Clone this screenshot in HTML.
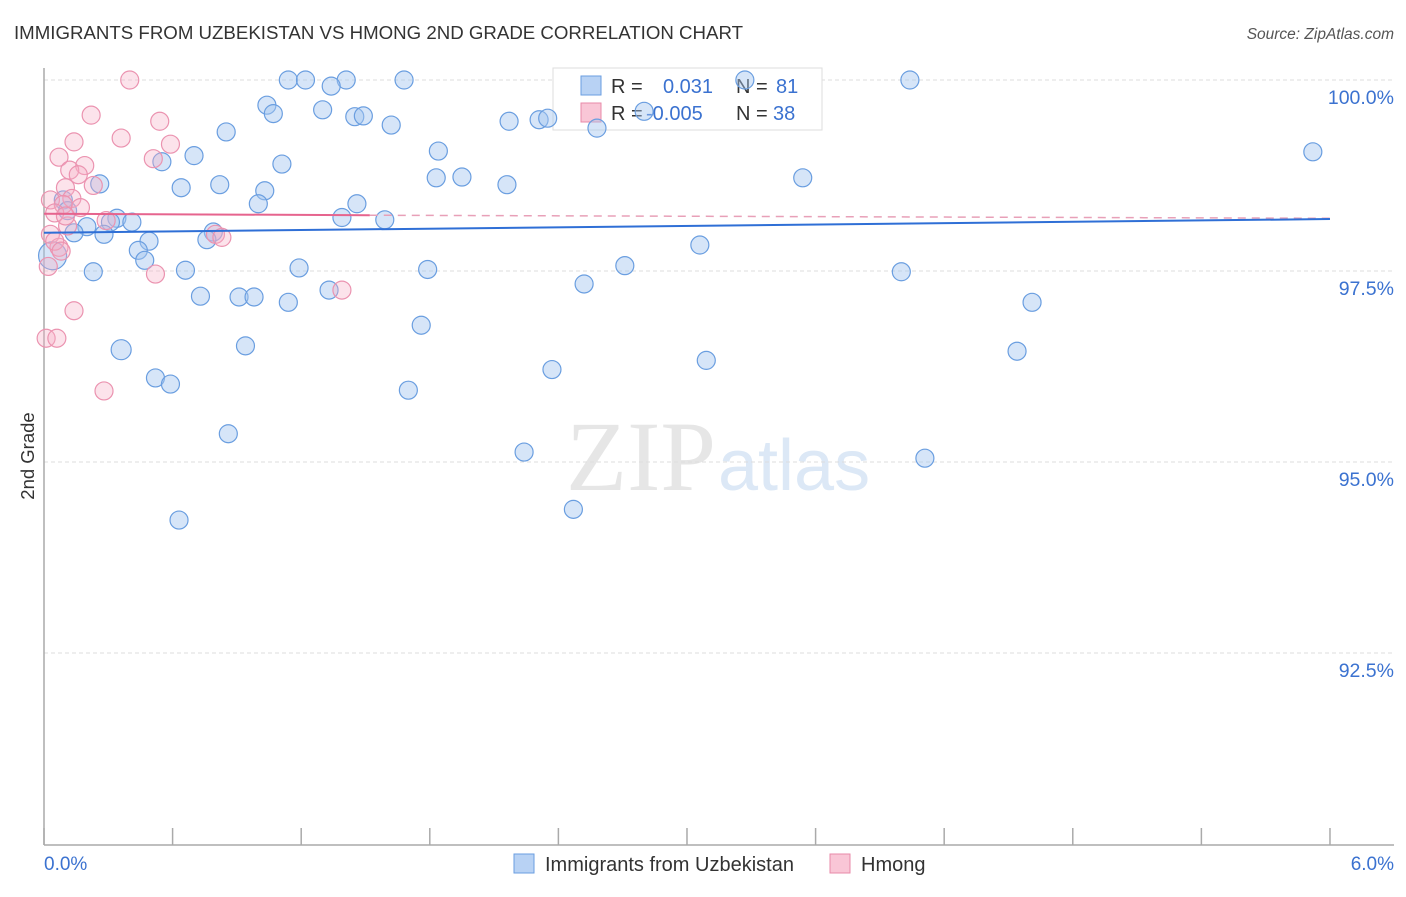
<!DOCTYPE html>
<html><head><meta charset="utf-8"><style>
body{margin:0;background:#fff;font-family:"Liberation Sans",sans-serif}
</style></head><body>
<svg width="1406" height="892" xmlns="http://www.w3.org/2000/svg" id="chart">
<text x="14" y="39" font-size="18" fill="#333" textLength="729" lengthAdjust="spacingAndGlyphs">IMMIGRANTS FROM UZBEKISTAN VS HMONG 2ND GRADE CORRELATION CHART</text>
<text x="1394" y="39" font-size="15.5" fill="#555" font-style="italic" text-anchor="end">Source: ZipAtlas.com</text>
<text x="716" y="490" font-size="100" fill="#e6e6e6" text-anchor="end" font-family="Liberation Serif,serif">ZIP</text>
<text x="718" y="490" font-size="72" fill="#dce8f6">atlas</text>
<g id="grid"></g>
<line x1="44" y1="68" x2="44" y2="845" stroke="#aaa" stroke-width="1.5"/>
<line x1="44" y1="845" x2="1394" y2="845" stroke="#aaa" stroke-width="1.5"/>
<text transform="translate(34,456) rotate(-90)" font-size="18.5" fill="#333" text-anchor="middle">2nd Grade</text>
<text x="44" y="870" font-size="19" fill="#3b72d0">0.0%</text>
<text x="1394" y="870" font-size="19" fill="#3b72d0" text-anchor="end">6.0%</text>
<g>
<rect x="553" y="68" width="269" height="62" fill="#fff" stroke="#ddd"/>
<rect x="581" y="76" width="20" height="19" fill="#b8d2f4" stroke="#6a9ee0"/>
<rect x="581" y="103" width="20" height="19" fill="#f9c6d6" stroke="#e88aa8"/>
<text x="611" y="93" font-size="20" fill="#333">R = <tspan fill="#3b72d0" x="663">0.031</tspan><tspan fill="#333" x="736">N = </tspan><tspan fill="#3b72d0" x="776">81</tspan></text>
<text x="611" y="120" font-size="20" fill="#333">R = <tspan fill="#3b72d0" x="646">-0.005</tspan><tspan fill="#333" x="736">N = </tspan><tspan fill="#3b72d0" x="773">38</tspan></text>
</g>
<g id="pts"></g>
<g id="lines"></g>
<g>
<rect x="514" y="854" width="20" height="19" fill="#b8d2f4" stroke="#6a9ee0"/>
<text x="545" y="871" font-size="20" fill="#333">Immigrants from Uzbekistan</text>
<rect x="830" y="854" width="20" height="19" fill="#f9c6d6" stroke="#e88aa8"/>
<text x="861" y="871" font-size="20" fill="#333">Hmong</text>
</g>
</svg>
<script>
const yTicks=[100,97.5,95,92.5];
const yTickLabels=["100.0%","97.5%","95.0%","92.5%"];
const xTicks=[0,0.6,1.2,1.8,2.4,3.0,3.6,4.2,4.8,5.4,6.0];
const blueX=[1.14,1.22,1.41,1.68,3.27,4.04,1.34,1.04,1.07,1.30,1.45,1.49,1.62,2.17,2.31,2.35,2.58,2.80,0.85,5.92,0.70,0.55,1.84,1.11,1.83,1.95,2.16,3.54,0.64,0.82,1.03,0.26,1.00,1.46,0.09,0.11,0.34,0.41,1.39,1.59,0.31,0.20,0.14,0.28,0.79,0.76,0.49,0.44,3.06,0.04,0.47,0.23,0.66,1.19,1.79,2.71,4.00,1.33,2.52,0.73,0.91,0.98,1.14,4.61,1.76,0.36,0.94,3.09,4.54,0.52,0.59,2.37,1.70,0.86,2.24,4.11,0.63,2.47];
const blueY=[100,100,100,100,100,100,99.92,99.67,99.56,99.61,99.52,99.53,99.41,99.46,99.48,99.50,99.37,99.59,99.32,99.06,99.01,98.93,99.07,98.90,98.72,98.73,98.63,98.72,98.59,98.63,98.55,98.64,98.38,98.38,98.43,98.29,98.19,98.14,98.20,98.17,98.14,98.08,98.00,97.98,98.01,97.91,97.89,97.77,97.84,97.70,97.64,97.49,97.51,97.54,97.52,97.57,97.49,97.25,97.33,97.17,97.16,97.16,97.09,97.09,96.79,96.47,96.52,96.33,96.45,96.10,96.02,96.21,95.94,95.37,95.13,95.05,94.24,94.38];
const blueR=[9,9,9,9,9,9,9,9,9,9,9,9,9,9,9,9,9,9,9,9,9,9,9,9,9,9,9,9,9,9,9,9,9,9,9,9,9,9,9,9,9,9,9,9,9,9,9,9,9,14,9,9,9,9,9,9,9,9,9,9,9,9,9,9,9,10,9,9,9,9,9,9,9,9,9,9,9,9];
const pinkX=[0.40,0.22,0.54,0.36,0.14,0.59,0.51,0.07,0.19,0.12,0.16,0.23,0.10,0.13,0.03,0.09,0.05,0.17,0.29,0.80,0.83,0.03,0.07,0.52,1.39,0.14,0.01,0.06,0.28,0.05,0.02,0.08,0.11,0.10];
const pinkY=[100,99.54,99.46,99.24,99.19,99.16,98.97,98.99,98.88,98.82,98.76,98.62,98.59,98.45,98.43,98.37,98.26,98.33,98.16,97.98,97.94,97.98,97.81,97.46,97.25,96.98,96.62,96.62,95.93,97.89,97.56,97.76,98.09,98.22];
const trendBlue=[98.00,98.18];
const trendPink=[98.25,98.23,98.19];
const X=v=>44+v*214.33, Y=v=>80+(100-v)*76.4;
const ns='http://www.w3.org/2000/svg';
const mk=(t,a,p)=>{const e=document.createElementNS(ns,t);for(const k in a)e.setAttribute(k,a[k]);document.getElementById(p).appendChild(e);return e;};
yTicks.forEach((t,i)=>{
 const l=mk('line',{x1:44,x2:1394,y1:Y(t),y2:Y(t),stroke:'#ddd','stroke-dasharray':'4,3'},'grid');
 
 
 const tx=mk('text',{x:1394,y:Y(t)+24,'font-size':19.5,fill:'#3b72d0','text-anchor':'end'},'grid');
 tx.textContent=yTickLabels[i];
 
 
});
xTicks.forEach(t=>{
 const l=mk('line',{x1:X(t),x2:X(t),y1:828,y2:845,stroke:'#aaa','stroke-width':1.5},'grid');
 
 
});
blueX.forEach((x,i)=>{
 const c=mk('circle',{cx:X(x),cy:Y(blueY[i]),r:blueR[i],fill:'rgba(165,198,240,0.45)',stroke:'#6a9ee0','stroke-width':1.2},'pts');
 
 
});
pinkX.forEach((x,i)=>{
 const c=mk('circle',{cx:X(x),cy:Y(pinkY[i]),r:9,fill:'rgba(245,175,198,0.35)',stroke:'#eb93b0','stroke-width':1.2},'pts');
 
 
});
const pd=mk('line',{x1:X(1.52),y1:Y(trendPink[1]),x2:X(6),y2:Y(trendPink[2]),stroke:'#e8a0b8','stroke-width':1.5,'stroke-dasharray':'8,6'},'lines');


const ps=mk('line',{x1:X(0),y1:Y(trendPink[0]),x2:X(1.52),y2:Y(trendPink[1]),stroke:'#e6648e','stroke-width':2},'lines');


const bl=mk('line',{x1:X(0),y1:Y(trendBlue[0]),x2:X(6),y2:Y(trendBlue[1]),stroke:'#2f6fd6','stroke-width':2},'lines');


</script>
</body></html>
